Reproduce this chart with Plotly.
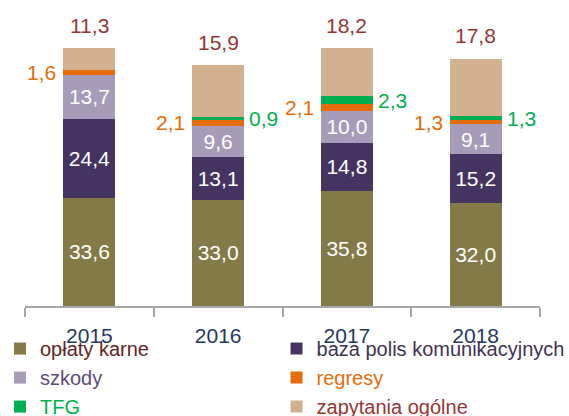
import plotly.graph_objects as go

years = ["2015", "2016", "2017", "2018"]
oplaty_karne = [33.6, 33.0, 35.8, 32.0]
baza_polis = [24.4, 13.1, 14.8, 15.2]
szkody = [13.7, 9.6, 10.0, 9.1]
regresy = [1.6, 2.1, 2.1, 1.3]
tfg = [0.0, 0.9, 2.3, 1.3]
zapytania = [11.3, 15.9, 18.2, 17.8]

series_names = ["opłaty karne", "baza polis komunikacyjnych", "szkody",
                "regresy", "TFG", "zapytania ogólne"]
series_values = [oplaty_karne, baza_polis, szkody, regresy, tfg, zapytania]
bar_colors = ["#847a48", "#453461", "#a69bb9", "#e46c0a", "#00b050", "#d2b190"]
legend_text_colors = ["#632523", "#3f3151", "#604a7b", "#e46c0a", "#00b050", "#953735"]
legend_ids = ["legend", "legend2", "legend", "legend2", "legend", "legend2"]

Y_MAX = 80
FONT = "Liberation Sans, Arial, sans-serif"


def fmt(v):
    return f"{v:.1f}".replace(".", ",")


fig = go.Figure()
for i, (name, vals) in enumerate(zip(series_names, series_values)):
    inside = i < 3
    fig.add_trace(go.Bar(
        x=years, y=vals,
        name=f"<span style='color:{legend_text_colors[i]}'>{name}</span>",
        legend=legend_ids[i],
        marker=dict(color=bar_colors[i], line=dict(width=0)),
        text=[fmt(v) for v in vals] if inside else None,
        textposition="inside" if inside else "none",
        insidetextanchor="middle",
        textangle=0,
        constraintext="none",
        textfont=dict(color="white", size=21, family=FONT),
    ))

# cumulative bases
bases = []
run = [0.0] * len(years)
for vals in series_values:
    bases.append(list(run))
    run = [r + v for r, v in zip(run, vals)]
totals = run

annotations = []
# regresy labels (left of bar)
for j in range(len(years)):
    v = regresy[j]
    annotations.append(dict(x=j, y=bases[3][j] + v / 2, xref="x", yref="y",
                            text=fmt(v), showarrow=False, xanchor="right",
                            xshift=-31, font=dict(color="#e46c0a", size=21, family=FONT)))
# TFG labels (right of bar)
for j in range(len(years)):
    v = tfg[j]
    if v > 0:
        annotations.append(dict(x=j, y=bases[4][j] + v / 2, xref="x", yref="y",
                                text=fmt(v), showarrow=False, xanchor="left",
                                xshift=29, font=dict(color="#00b050", size=21, family=FONT)))
# zapytania labels (above bar)
for j in range(len(years)):
    annotations.append(dict(x=j, y=min(totals[j], Y_MAX), xref="x", yref="y",
                            text=fmt(zapytania[j]), showarrow=False, yanchor="middle",
                            yshift=23, font=dict(color="#953735", size=21, family=FONT)))
# cut-off title at the very top
annotations.append(dict(x=0.4656, y=1, xref="paper", yref="paper",
                        text="Liczba spraw w latach (w tys.)", showarrow=False,
                        xanchor="center", yanchor="middle", yshift=60,
                        font=dict(color="#1e7fd4", size=20, family=FONT)))

legend_common = dict(orientation="v", xref="container", yref="container",
                     xanchor="left", y=0.209, yanchor="top", traceorder="normal",
                     font=dict(size=20, family=FONT), bgcolor="rgba(0,0,0,0)",
                     itemwidth=30)

fig.update_layout(
    width=569, height=416,
    margin=dict(l=25, r=29, t=48, b=110, autoexpand=False),
    barmode="stack",
    bargap=0.595,
    plot_bgcolor="white", paper_bgcolor="white",
    font=dict(family=FONT, size=20),
    showlegend=True,
    legend=dict(x=0.0, **legend_common),
    legend2=dict(x=0.486, **legend_common),
    annotations=annotations,
    xaxis=dict(type="category", range=[-0.5, len(years) - 0.5],
               showline=True, linecolor="#a6a6a6", linewidth=2,
               ticks="outside", tickson="boundaries", ticklen=9, tickwidth=2,
               tickcolor="#a6a6a6", showgrid=False, zeroline=False,
               tickfont=dict(size=21, color="#1f3864", family=FONT),
               ticklabelstandoff=10),
    yaxis=dict(range=[0, Y_MAX], visible=False, showgrid=False, zeroline=False),
)

fig.write_html("out.html", config={"displayModeBar": False},
               post_script="document.body.style.margin='0';")
